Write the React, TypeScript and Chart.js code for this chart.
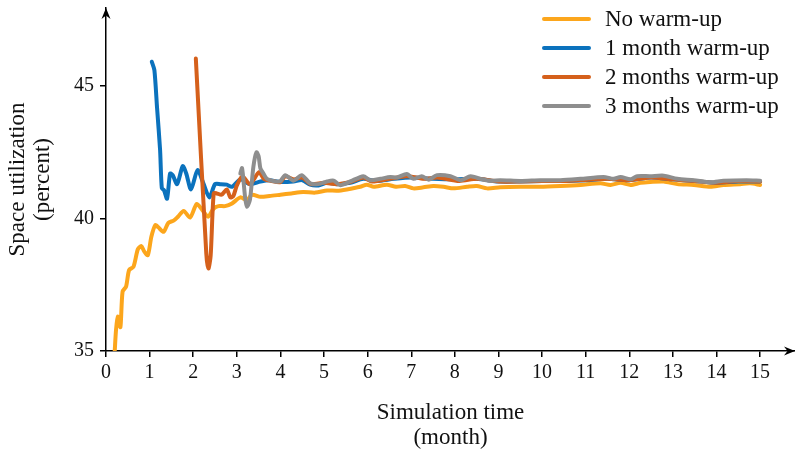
import { useEffect, useRef } from "react";
import { Chart, registerables } from "chart.js";

Chart.register(...registerables);

// ---- data ----
const seriesLabels = ["No warm-up", "1 month warm-up", "2 months warm-up", "3 months warm-up"];
const seriesColors = ["#FCA61C", "#0B72BD", "#D5601B", "#8E8E8E"];
const xTicks = [0, 1, 2, 3, 4, 5, 6, 7, 8, 9, 10, 11, 12, 13, 14, 15];
const yTicks = [35, 40, 45];
const xTitle = ["Simulation time", "(month)"];
const yTitle = ["Space utilization", "(percent)"];

// [month, percent]
const noWarmup: [number, number][] = [
  [0.2, 35.0], [0.23, 35.8], [0.27, 36.3], [0.33, 35.9], [0.38, 37.24], [0.46, 37.43],
  [0.53, 38.06], [0.63, 38.18], [0.73, 38.84], [0.81, 38.96], [0.88, 38.75], [0.96, 38.62],
  [1.04, 39.31], [1.13, 39.75], [1.2, 39.67], [1.32, 39.5], [1.43, 39.84], [1.55, 39.92],
  [1.65, 40.07], [1.78, 40.29], [1.93, 40.04], [2.08, 40.55], [2.21, 40.32], [2.34, 40.07],
  [2.47, 40.38], [2.58, 40.47], [2.73, 40.47], [2.89, 40.57], [3.08, 40.8], [3.23, 40.7],
  [3.35, 40.9], [3.54, 40.82], [3.75, 40.85], [4.0, 40.9], [4.25, 40.95], [4.52, 41.0],
  [4.8, 40.98], [5.07, 41.06], [5.3, 41.05], [5.52, 41.1], [5.83, 41.2], [5.98, 41.28],
  [6.14, 41.2], [6.44, 41.28], [6.65, 41.2], [6.86, 41.23], [7.05, 41.14], [7.28, 41.18],
  [7.51, 41.23], [7.74, 41.2], [7.97, 41.14], [8.28, 41.2], [8.5, 41.23], [8.74, 41.14],
  [9.04, 41.18], [9.5, 41.2], [9.96, 41.2], [10.42, 41.23], [10.88, 41.27], [11.34, 41.33],
  [11.57, 41.27], [11.8, 41.35], [12.03, 41.27], [12.26, 41.35], [12.48, 41.38], [12.79, 41.4],
  [13.1, 41.3], [13.48, 41.27], [13.86, 41.2], [14.16, 41.27], [14.54, 41.3], [14.77, 41.33],
  [15.0, 41.27],
];

const oneMonth: [number, number][] = [
  [1.05, 45.92], [1.11, 45.6], [1.17, 44.2], [1.24, 42.6], [1.28, 41.15], [1.33, 41.07],
  [1.4, 40.75], [1.47, 41.7], [1.53, 41.64], [1.63, 41.3], [1.76, 41.98], [1.84, 41.7],
  [1.95, 41.1], [2.1, 41.83], [2.24, 41.3], [2.37, 40.8], [2.5, 41.3], [2.62, 41.3],
  [2.77, 41.28], [2.89, 41.2], [3.08, 41.48], [3.3, 41.3], [3.54, 41.4], [3.75, 41.45],
  [4.0, 41.38], [4.3, 41.4], [4.5, 41.45], [4.68, 41.28], [4.87, 41.25], [5.07, 41.35],
  [5.3, 41.3], [5.6, 41.35], [5.9, 41.5], [6.2, 41.42], [6.6, 41.5], [7.0, 41.55],
  [7.5, 41.5], [8.0, 41.48], [8.5, 41.5], [9.0, 41.4], [9.5, 41.4], [10.0, 41.42],
  [10.5, 41.42], [11.0, 41.45], [11.5, 41.5], [12.0, 41.45], [12.5, 41.55], [13.0, 41.48],
  [13.5, 41.42], [14.0, 41.35], [14.5, 41.4], [15.0, 41.4],
];

const twoMonths: [number, number][] = [
  [2.06, 46.04], [2.3, 38.68], [2.35, 38.12], [2.4, 38.6], [2.47, 40.95], [2.54, 40.95],
  [2.65, 40.9], [2.77, 41.1], [2.85, 40.8], [2.92, 40.85], [3.0, 41.25], [3.13, 41.6],
  [3.3, 41.3], [3.51, 41.75], [3.62, 41.5], [3.8, 41.42], [4.0, 41.38], [4.11, 41.6],
  [4.3, 41.48], [4.5, 41.55], [4.7, 41.3], [5.0, 41.35], [5.3, 41.3], [5.6, 41.38],
  [5.9, 41.55], [6.1, 41.4], [6.5, 41.5], [6.9, 41.6], [7.3, 41.5], [7.6, 41.55],
  [8.1, 41.42], [8.5, 41.5], [9.0, 41.4], [9.5, 41.4], [10.0, 41.42], [10.5, 41.42],
  [11.0, 41.46], [11.5, 41.5], [12.0, 41.45], [12.5, 41.55], [13.0, 41.48], [13.5, 41.42],
  [14.0, 41.35], [14.5, 41.42], [15.0, 41.4],
];

const threeMonths: [number, number][] = [
  [3.08, 41.7], [3.12, 41.9], [3.19, 40.8], [3.23, 40.45], [3.3, 40.7], [3.38, 41.96],
  [3.45, 42.5], [3.5, 42.35], [3.54, 41.9], [3.61, 41.7], [3.69, 41.5], [3.88, 41.4],
  [4.0, 41.42], [4.11, 41.64], [4.3, 41.43], [4.49, 41.64], [4.68, 41.33], [4.87, 41.3],
  [5.07, 41.4], [5.22, 41.43], [5.37, 41.26], [5.6, 41.4], [5.9, 41.6], [6.06, 41.45],
  [6.29, 41.5], [6.52, 41.57], [6.67, 41.55], [6.9, 41.68], [7.05, 41.5], [7.24, 41.6],
  [7.4, 41.47], [7.59, 41.64], [7.9, 41.6], [8.13, 41.45], [8.36, 41.6], [8.59, 41.5],
  [8.82, 41.42], [9.04, 41.45], [9.5, 41.42], [9.96, 41.45], [10.42, 41.45], [10.88, 41.5],
  [11.41, 41.57], [11.64, 41.5], [11.8, 41.57], [12.03, 41.48], [12.18, 41.6], [12.48, 41.6],
  [12.79, 41.62], [13.1, 41.5], [13.48, 41.45], [13.86, 41.37], [14.16, 41.43], [14.69, 41.45],
  [15.0, 41.43],
];

const allSeries = [noWarmup, oneMonth, twoMonths, threeMonths];

const FONT = '"Liberation Serif", "Times New Roman", serif';

const arrowPlugin = {
  id: "axisArrows",
  afterDraw(chart: any) {
    const { ctx, chartArea } = chart;
    const drawHead = (x: number, y: number, angle: number) => {
      ctx.save();
      ctx.translate(x, y);
      ctx.rotate(angle);
      ctx.fillStyle = "#000";
      ctx.beginPath();
      ctx.moveTo(0, 0);
      ctx.lineTo(-11, -4.5);
      ctx.lineTo(-7.5, 0);
      ctx.lineTo(-11, 4.5);
      ctx.closePath();
      ctx.fill();
      ctx.restore();
    };
    drawHead(chartArea.right, chartArea.bottom, 0);
    drawHead(chartArea.left, chartArea.top, -Math.PI / 2);
  },
};

const legendPlugin = {
  id: "cornerLegend",
  afterDraw(chart: any) {
    const { ctx } = chart;
    ctx.save();
    chart.data.datasets.forEach((ds: any, i: number) => {
      const y = 19 + i * 29;
      ctx.strokeStyle = ds.borderColor;
      ctx.lineWidth = 4;
      ctx.lineCap = "round";
      ctx.beginPath();
      ctx.moveTo(544, y);
      ctx.lineTo(589, y);
      ctx.stroke();
      ctx.fillStyle = "#111";
      ctx.font = `23px ${FONT}`;
      ctx.textBaseline = "middle";
      ctx.textAlign = "left";
      ctx.fillText(ds.label, 605, y + 1);
    });
    ctx.restore();
  },
};

export default function App() {
  const canvasRef = useRef<HTMLCanvasElement | null>(null);

  useEffect(() => {
    document.body.style.margin = "0";
    const canvas = canvasRef.current;
    if (!canvas) return;
    const chart = new Chart(canvas, {
      type: "line",
      data: {
        datasets: allSeries.map((s, i) => ({
          label: seriesLabels[i],
          data: s.map(([x, y]) => ({ x, y })),
          borderColor: seriesColors[i],
          backgroundColor: seriesColors[i],
          borderWidth: 4,
          pointRadius: 0,
          tension: 0.25,
          borderJoinStyle: "round" as const,
          borderCapStyle: "round" as const,
          fill: false,
          order: 4 - i,
        })),
      },
      options: {
        animation: false,
        responsive: true,
        maintainAspectRatio: false,
        layout: { padding: { top: 8, right: 0, left: 0, bottom: 0 } },
        plugins: {
          legend: { display: false },
          tooltip: { enabled: false },
        },
        scales: {
          x: {
            type: "linear",
            min: 0,
            max: 15.8,
            afterBuildTicks: (scale: any) => {
              scale.ticks = xTicks.map((v) => ({ value: v }));
            },
            afterFit: (scale: any) => {
              scale.height = 100;
              scale.paddingLeft = 0;
              scale.paddingRight = 0;
            },
            grid: {
              display: true,
              drawOnChartArea: false,
              drawTicks: true,
              tickLength: 6,
              color: "#000",
              lineWidth: 1.5,
            },
            border: { display: true, color: "#000", width: 1.5 },
            ticks: {
              color: "#111",
              font: { family: FONT, size: 20 },
              padding: 4,
              maxRotation: 0,
              autoSkip: false,
              callback: (v: any) => String(v),
            },
            title: {
              display: true,
              text: xTitle,
              color: "#111",
              font: { family: FONT, size: 23, lineHeight: 1.1 },
              padding: { top: 0, bottom: 0 },
            },
          },
          y: {
            type: "linear",
            min: 35,
            max: 47.95,
            afterBuildTicks: (scale: any) => {
              scale.ticks = yTicks.map((v) => ({ value: v }));
            },
            afterFit: (scale: any) => {
              scale.width = 106;
              scale.paddingTop = 0;
              scale.paddingBottom = 0;
            },
            grid: {
              display: true,
              drawOnChartArea: false,
              drawTicks: true,
              tickLength: 6,
              color: "#000",
              lineWidth: 1.5,
            },
            border: { display: true, color: "#000", width: 1.5 },
            ticks: {
              color: "#111",
              font: { family: FONT, size: 20 },
              padding: 6,
              callback: (v: any) => String(v),
            },
            title: {
              display: true,
              text: yTitle,
              color: "#111",
              font: { family: FONT, size: 23, lineHeight: 1.1 },
              padding: { top: 5, bottom: 0 },
            },
          },
        },
      },
      plugins: [arrowPlugin, legendPlugin],
    });
    return () => chart.destroy();
  }, []);

  return (
    <div style={{ width: 795, height: 451, position: "relative" }}>
      <canvas ref={canvasRef} />
    </div>
  );
}
